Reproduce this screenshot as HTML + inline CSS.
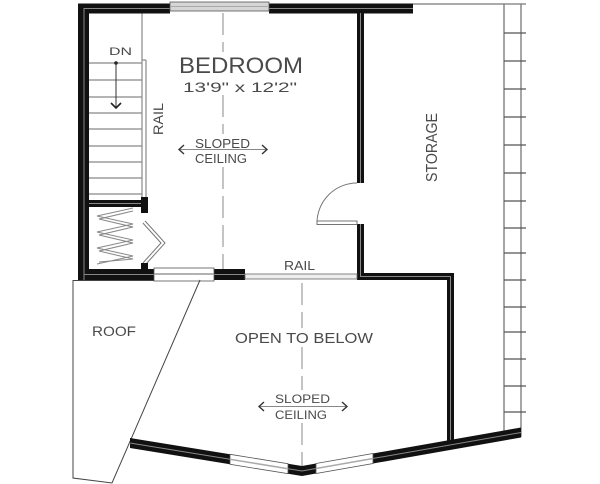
<!DOCTYPE html>
<html><head><meta charset="utf-8"><style>
html,body{margin:0;padding:0;background:#fff;}
svg{display:block;}
text{font-family:"Liberation Sans",sans-serif;fill:#4a4a4a;}
</style></head><body>
<svg width="600" height="484" viewBox="0 0 600 484" xmlns="http://www.w3.org/2000/svg">
<rect width="600" height="484" fill="#fff"/>

<!-- storage right lines and ticks -->
<g stroke="#777" stroke-width="1.3" fill="none">
<line x1="413" y1="4" x2="526" y2="4"/>
<line x1="504" y1="4" x2="504" y2="432"/>
<line x1="521" y1="4" x2="521" y2="437"/>
</g>
<g stroke="#555" stroke-width="1.2">
<line x1="504" y1="33" x2="526" y2="33"/>
<line x1="504" y1="61" x2="526" y2="61"/>
<line x1="504" y1="89" x2="526" y2="89"/>
<line x1="504" y1="117" x2="526" y2="117"/>
<line x1="504" y1="145" x2="526" y2="145"/>
<line x1="504" y1="173" x2="526" y2="173"/>
<line x1="504" y1="201" x2="526" y2="201"/>
<line x1="504" y1="228" x2="526" y2="228"/>
<line x1="504" y1="253" x2="526" y2="253"/>
<line x1="504" y1="280" x2="526" y2="280"/>
<line x1="504" y1="307" x2="526" y2="307"/>
<line x1="504" y1="332" x2="526" y2="332"/>
<line x1="504" y1="359" x2="526" y2="359"/>
<line x1="504" y1="386" x2="526" y2="386"/>
<line x1="504" y1="412" x2="526" y2="412"/>
</g>

<!-- dashed center lines -->
<g stroke="#888" stroke-width="1" fill="none" stroke-dasharray="22,7">
<line x1="223" y1="13" x2="223" y2="52"/>
<line x1="223" y1="95" x2="223" y2="134"/>
<line x1="223" y1="167" x2="223" y2="270"/>
<line x1="302" y1="283" x2="302" y2="328"/>
<line x1="302" y1="347" x2="302" y2="390"/>
<line x1="302" y1="423" x2="302" y2="466"/>
</g>

<!-- stairs -->
<g stroke="#888" stroke-width="1.2">
<line x1="89" y1="63" x2="142" y2="63"/>
<line x1="89" y1="80" x2="142" y2="80"/>
<line x1="89" y1="97" x2="142" y2="97"/>
<line x1="89" y1="113" x2="142" y2="113"/>
<line x1="89" y1="129" x2="142" y2="129"/>
<line x1="89" y1="146" x2="142" y2="146"/>
<line x1="89" y1="162" x2="142" y2="162"/>
<line x1="89" y1="178" x2="142" y2="178"/>
<line x1="89" y1="194" x2="142" y2="194"/>
<line x1="142" y1="13" x2="142" y2="198"/>
<line x1="146" y1="60" x2="146" y2="198"/>
<line x1="142" y1="60" x2="146" y2="60"/>
</g>
<!-- DN arrow -->
<circle cx="116" cy="63" r="1.8" fill="#222"/>
<line x1="116" y1="63" x2="116" y2="108" stroke="#333" stroke-width="1"/>
<polyline points="111,103 116,108 121,103" fill="none" stroke="#222" stroke-width="1.6"/>

<!-- closet zigzag -->
<g fill="none" stroke="#888" stroke-width="1">
<polyline points="133,208 97,216 133,224 97,232 133,240 97,248 133,256 97,264"/>
<polyline points="133,211 99,219 133,227 99,235 133,243 99,251 133,259 99,262"/>
</g>
<!-- bifold door -->
<polyline points="144,222 163,243 144,264" fill="none" stroke="#777" stroke-width="4"/>
<polyline points="144,222 163,243 144,264" fill="none" stroke="#fff" stroke-width="2"/>

<!-- walls -->
<g fill="#111">
<rect x="78" y="3.5" width="92" height="10"/>
<rect x="269" y="3.5" width="144" height="10"/>
<rect x="78" y="3.5" width="11" height="277"/>
<rect x="357" y="13" width="7" height="170"/>
<rect x="357" y="224" width="7" height="56"/>
<rect x="357" y="273" width="97" height="7"/>
<rect x="447" y="273" width="7" height="168"/>
<rect x="78" y="269" width="76" height="11"/>
<rect x="214" y="269" width="31" height="11"/>
<rect x="89" y="200" width="59" height="7"/>
<rect x="141" y="197" width="7" height="16"/>
<rect x="141" y="263" width="7" height="7"/>
</g>
<g stroke="#888" stroke-width="1" fill="none">
<polyline points="84,280 84,8.5 413,8.5"/>
<line x1="360.5" y1="13" x2="360.5" y2="183"/>
<polyline points="360.5,224 360.5,276.5 450.5,276.5 450.5,441"/>
<line x1="84" y1="274.5" x2="154" y2="274.5"/>
<line x1="214" y1="274.5" x2="245" y2="274.5"/>
<line x1="89" y1="203.5" x2="141" y2="203.5"/>
</g>

<!-- top window -->
<rect x="170" y="2" width="99" height="9" fill="#d6d6d6" stroke="#555" stroke-width="0.8"/>
<line x1="170" y1="6.5" x2="269" y2="6.5" stroke="#aaa" stroke-width="1"/>
<!-- bottom bedroom window -->
<rect x="154" y="268" width="60" height="13" fill="#fff" stroke="#555" stroke-width="0.8"/>
<line x1="154" y1="274" x2="214" y2="274" stroke="#999" stroke-width="1.5"/>
<!-- rail -->
<rect x="245" y="274" width="112" height="5" fill="#eee" stroke="#666" stroke-width="0.8"/>

<!-- door -->
<path d="M357,183 A40,40 0 0 0 317,223" fill="none" stroke="#777" stroke-width="1"/>
<rect x="317" y="221" width="40" height="3.5" fill="#fff" stroke="#666" stroke-width="0.9"/>

<!-- roof -->
<g fill="none" stroke="#444" stroke-width="1">
<polyline points="154,280.5 73,280.5 73,478 112,483 200,280"/>
</g>

<!-- sloped bottom wall -->
<g>
<polygon points="130,438 230,454.3 230,464.3 130,448" fill="#111"/>
<polygon points="288,463.7 302,466 316,463.5 316,473.5 302,476 288,473.7" fill="#111"/>
<polygon points="373,453.5 521,427.5 521,437.5 373,463.5" fill="#111"/>
<line x1="130" y1="443" x2="230" y2="459.3" stroke="#888" stroke-width="1"/>
<line x1="373" y1="458.5" x2="521" y2="432.5" stroke="#888" stroke-width="1"/>
<polyline points="288,468.7 302,471 316,468.5" fill="none" stroke="#888" stroke-width="1"/>
<polygon points="230,454.3 288,463.7 288,473.7 230,464.3" fill="#fff" stroke="#555" stroke-width="0.8"/>
<line x1="230" y1="459.3" x2="288" y2="468.7" stroke="#aaa" stroke-width="1.5"/>
<polygon points="316,463.5 373,453.5 373,463.5 316,473.5" fill="#fff" stroke="#555" stroke-width="0.8"/>
<line x1="316" y1="468.5" x2="373" y2="458.5" stroke="#aaa" stroke-width="1.5"/>
</g>

<!-- sloped ceiling arrows -->
<g fill="none" stroke="#333" stroke-width="1.4">
<line x1="180" y1="149.5" x2="266" y2="149.5" stroke="#888" stroke-width="1"/>
<polyline points="184,145 179,149.5 184,154"/>
<polyline points="262,145 267,149.5 262,154"/>
<line x1="260" y1="406.5" x2="346" y2="406.5" stroke="#888" stroke-width="1"/>
<polyline points="264,402 259,406.5 264,411"/>
<polyline points="342,402 347,406.5 342,411"/>
</g>

<!-- labels -->
<text x="109" y="55" font-size="11" textLength="23" lengthAdjust="spacingAndGlyphs">DN</text>
<text x="179" y="73" font-size="22" textLength="124" lengthAdjust="spacingAndGlyphs">BEDROOM</text>
<text x="183" y="92" font-size="14" textLength="114" lengthAdjust="spacingAndGlyphs">13'9" x 12'2"</text>
<text transform="translate(163,135) rotate(-90)" font-size="14" textLength="32" lengthAdjust="spacingAndGlyphs">RAIL</text>
<text x="195" y="148" font-size="13" textLength="55" lengthAdjust="spacingAndGlyphs">SLOPED</text>
<text x="195" y="163" font-size="13" textLength="52" lengthAdjust="spacingAndGlyphs">CEILING</text>
<text transform="translate(437,182) rotate(-90)" font-size="16" textLength="69" lengthAdjust="spacingAndGlyphs">STORAGE</text>
<text x="284" y="270" font-size="13" textLength="31" lengthAdjust="spacingAndGlyphs">RAIL</text>
<text x="92" y="336" font-size="14" textLength="44" lengthAdjust="spacingAndGlyphs">ROOF</text>
<text x="235" y="343" font-size="15" textLength="138" lengthAdjust="spacingAndGlyphs">OPEN TO BELOW</text>
<text x="275" y="403" font-size="12" textLength="55" lengthAdjust="spacingAndGlyphs">SLOPED</text>
<text x="275" y="419" font-size="12" textLength="52" lengthAdjust="spacingAndGlyphs">CEILING</text>
</svg>
</body></html>
